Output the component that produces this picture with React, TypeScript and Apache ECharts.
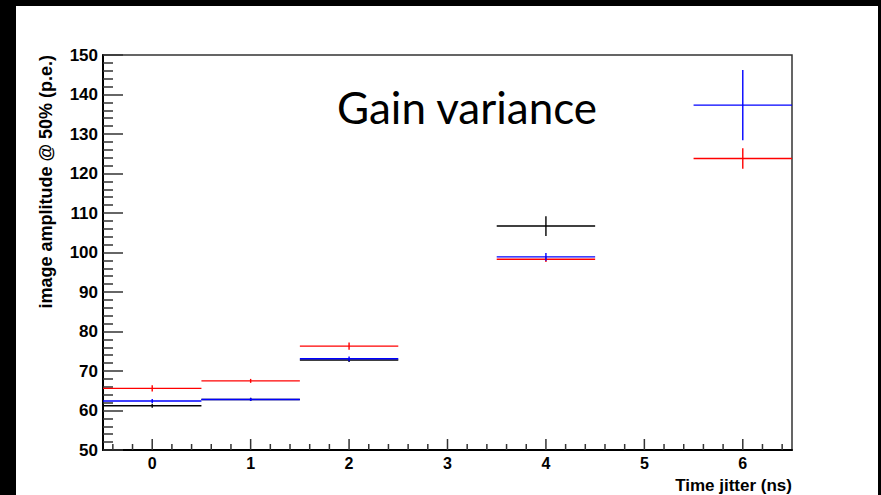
import React, { useEffect, useRef } from "react";
import * as echarts from "echarts";

// Bin centres (Time jitter, ns)
const X_BLACK = [0, 1, 2, 4];
const Y_BLACK = [61.2, 62.8, 72.8, 106.7];
const E_BLACK = [0.5, 0.4, 0.5, 2.5];

const X_RED = [0, 1, 2, 4, 6];
const Y_RED = [65.6, 67.5, 76.3, 98.3, 123.8];
const E_RED = [0.8, 0.5, 0.9, 0.7, 2.6];

const X_BLUE = [0, 1, 2, 4, 6];
const Y_BLUE = [62.4, 62.8, 73.1, 98.9, 137.3];
const E_BLUE = [0.5, 0.4, 0.6, 1.0, 8.9];

const X_MIN = -0.5;
const X_MAX = 6.5;
const Y_MIN = 50;
const Y_MAX = 150;
const BIN_HALF = 0.5;

const TITLE = "Gain variance";
const Y_TITLE = "image amplitude @ 50% (p.e.)";
const X_TITLE = "Time jitter (ns)";

const AXIS_FONT = "'Liberation Sans', Arial, Helvetica, sans-serif";

function errSeries(name: string, xs: number[], ys: number[], es: number[], color: string) {
  return {
    name,
    type: "custom",
    coordinateSystem: "cartesian2d",
    silent: true,
    clip: true,
    data: xs.map((x, i) => [x, ys[i], es[i]]),
    renderItem: (_params: any, api: any) => {
      const x = api.value(0);
      const y = api.value(1);
      const e = api.value(2);
      const a = api.coord([x - BIN_HALF, y]);
      const b = api.coord([x + BIN_HALF, y]);
      const c = api.coord([x, y - e]);
      const d = api.coord([x, y + e]);
      const style = { stroke: color, lineWidth: 1.4 };
      return {
        type: "group",
        children: [
          { type: "line", shape: { x1: a[0], y1: a[1], x2: b[0], y2: b[1] }, style },
          { type: "line", shape: { x1: c[0], y1: c[1], x2: d[0], y2: d[1] }, style },
        ],
      };
    },
  };
}

// x-axis tick marks (major at integers, minor every 0.2)
const X_TICKS: number[][] = [];
for (let k = -2; k <= 32; k++) {
  const v = Math.round(k * 0.2 * 10) / 10;
  if (v > X_MIN && v < X_MAX) X_TICKS.push([v, Y_MIN]);
}

export default function App() {
  const ref = useRef<HTMLDivElement>(null);

  useEffect(() => {
    document.body.style.margin = "0";
    if (!ref.current) return;
    const chart = echarts.init(ref.current, undefined, { renderer: "svg" });
    chart.setOption({
      animation: false,
      backgroundColor: "#ffffff",
      grid: {
        left: 87,
        top: 49,
        right: 86,
        bottom: 45,
        show: true,
        borderColor: "#333",
        borderWidth: 1.5,
        backgroundColor: "transparent",
      },
      xAxis: {
        type: "value",
        min: X_MIN,
        max: X_MAX,
        splitNumber: 7,
        splitLine: { show: false },
        axisLine: { show: true, onZero: false, lineStyle: { color: "#000", width: 2 } },
        axisTick: { show: false },
        minorTick: { show: false },
        axisLabel: {
          margin: 5,
          color: "#000",
          fontFamily: AXIS_FONT,
          fontWeight: "bold",
          fontSize: 16,
          formatter: (v: number) => (Math.abs(v - Math.round(v)) < 1e-6 ? String(Math.round(v)) : ""),
        },
      },
      yAxis: {
        type: "value",
        min: Y_MIN,
        max: Y_MAX,
        interval: 10,
        splitLine: { show: false },
        axisLine: { show: true, onZero: false, lineStyle: { color: "#000", width: 2 } },
        axisTick: { show: true, inside: true, length: 20, lineStyle: { color: "#333", width: 1.5 } },
        minorTick: { show: true, splitNumber: 5, length: 10, lineStyle: { color: "#333", width: 1.5 } },
        axisLabel: {
          margin: 5,
          color: "#000",
          fontFamily: AXIS_FONT,
          fontWeight: "bold",
          fontSize: 17,
        },
      },
      series: [
        {
          type: "custom",
          coordinateSystem: "cartesian2d",
          silent: true,
          data: X_TICKS,
          renderItem: (_p: any, api: any) => {
            const v = api.value(0);
            const p = api.coord([v, api.value(1)]);
            const major = Math.abs(v - Math.round(v)) < 1e-6;
            const len = major ? 11 : 6;
            return {
              type: "line",
              shape: { x1: p[0], y1: p[1], x2: p[0], y2: p[1] - len },
              style: { stroke: "#333", lineWidth: 1.5 },
            };
          },
        },
        errSeries("black", X_BLACK, Y_BLACK, E_BLACK, "#000000"),
        errSeries("red", X_RED, Y_RED, E_RED, "#ff0000"),
        errSeries("blue", X_BLUE, Y_BLUE, E_BLUE, "#0000ff"),
      ],
      graphic: [
        {
          type: "text",
          x: 451,
          y: 101,
          style: {
            text: TITLE,
            fill: "#000",
            font: "44px Lato, 'Open Sans', sans-serif",
            textAlign: "center",
            textVerticalAlign: "middle",
          },
        },
        {
          type: "text",
          x: 30,
          y: 49,
          rotation: Math.PI / 2,
          style: {
            text: Y_TITLE,
            fill: "#000",
            font: `bold 18px ${AXIS_FONT}`,
            textAlign: "right",
            textVerticalAlign: "middle",
          },
        },
        {
          type: "text",
          x: 776,
          y: 479,
          style: {
            text: X_TITLE,
            fill: "#000",
            font: `bold 17px ${AXIS_FONT}`,
            textAlign: "right",
            textVerticalAlign: "middle",
          },
        },
      ],
    });
    return () => chart.dispose();
  }, []);

  return (
    <div style={{ position: "fixed", left: 0, top: 0, width: 881, height: 495, background: "#000" }}>
      <div
        ref={ref}
        style={{ position: "absolute", left: 16, top: 6, width: 862, height: 489, background: "#fff" }}
      />
    </div>
  );
}
